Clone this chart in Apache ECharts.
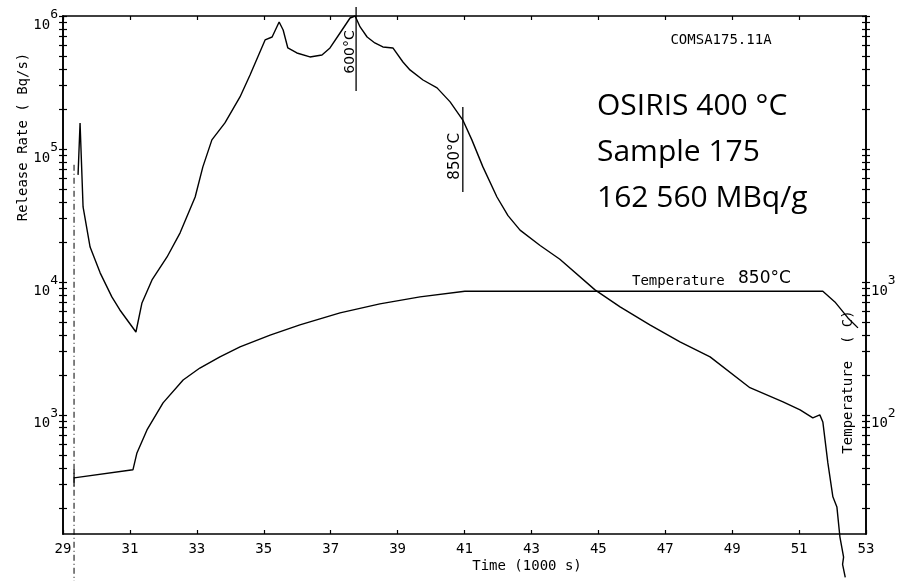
<!DOCTYPE html>
<html><head><meta charset="utf-8">
<script src="https://cdn.jsdelivr.net/npm/echarts@6/dist/echarts.min.js"></script>
<style>html,body{margin:0;padding:0;background:#fff}#c{width:910px;height:581px}</style>
</head><body><div id="c"></div>
<script>
// ---- data ----
const releaseTime = [29.45, 29.51, 29.60, 29.81, 30.11, 30.46, 30.70, 31.18, 31.36, 31.66, 32.11, 32.50, 32.95, 33.18, 33.45, 33.84, 34.29, 34.59, 35.04, 35.25, 35.46, 35.58, 35.72, 35.99, 36.38, 36.74, 36.98, 37.28, 37.58, 37.73, 37.88, 38.09, 38.32, 38.56, 38.86, 39.16, 39.37, 39.76, 40.18, 40.57, 40.95, 41.22, 41.55, 41.97, 42.30, 42.66, 43.26, 43.85, 44.90, 45.65, 46.54, 47.44, 48.34, 49.53, 50.52, 51.03, 51.41, 51.62, 51.71, 51.86, 52.01, 52.13, 52.22, 52.28, 52.33, 52.30, 52.38];
const releaseRate = [63800, 156700, 36600, 18300, 11700, 7710, 6150, 4200, 6950, 10350, 15400, 23400, 43500, 73300, 117000, 157000, 246000, 360000, 661000, 695000, 902000, 785000, 575000, 527000, 492000, 509000, 575000, 745000, 966000, 1000000, 827000, 695000, 627000, 585000, 575000, 451000, 393000, 330000, 288000, 226000, 165000, 117000, 73300, 43500, 31500, 24500, 18800, 14800, 8710, 6490, 4750, 3540, 2730, 1600, 1250, 1090, 950, 1000, 885, 435, 242, 203, 121, 100, 85, 75, 60];
const tempTime = [29.33, 31.09, 31.21, 31.51, 31.99, 32.59, 33.09, 33.69, 34.29, 35.19, 36.08, 37.28, 38.47, 39.67, 41.01, 51.71, 52.07, 52.46, 52.76];
const temperature = [33.6, 38.6, 51.7, 77, 123, 183, 225, 273, 324, 398, 475, 585, 684, 771, 850, 850, 707, 536, 451];

// tick labels
const xTickLabels = [29, 31, 33, 35, 37, 39, 41, 43, 45, 47, 49, 51, 53];
const leftLabelValues = [1e3, 1e4, 1e5, 1e6];
const rightLabelValues = [1e2, 1e3];
const leftRange = [127, 1e6];
const rightRange = [12.7, 1e5];

// annotations (data coordinates)
const startLine = [[29.33, 76000], [29.33, 56]];
const startTick = [[29.33, 29], [29.33, 39]];
const marker600 = [[37.76, 1.17e6], [37.76, 2.73e5]];
const marker850 = [[40.95, 2.07e5], [40.95, 4.75e4]];

// ---- build ----
function logTicks(lo, hi) {
  const out = [];
  for (let k = 0; k <= 6; k++) for (let m = 1; m <= 9; m++) {
    const v = m * Math.pow(10, k);
    if (v >= lo * 0.999 && v <= hi * 1.001) out.push(v);
  }
  return out;
}
const leftTicks = logTicks(leftRange[0], leftRange[1]);
const rightTicks = logTicks(rightRange[0], rightRange[1]);
const zip = (a, b) => a.map((v, i) => [v, b[i]]);

const mono = 'DejaVu Sans Mono';
const black = '#000';
const rich = {
  b: {fontFamily: mono, fontSize: 14, color: black, lineHeight: 32, verticalAlign: 'bottom'},
  s: {fontFamily: mono, fontSize: 13, color: black, lineHeight: 32, verticalAlign: 'top', padding: [8, 0, 0, 0]}
};
const powFmt = v => '{b|10}{s|' + Math.round(Math.log10(v)) + '}';

function yAx(range, pos, ticks, labels, inside) {
  return {
    type: 'log', min: range[0], max: range[1], position: pos,
    axisLine: {show: true, lineStyle: {color: black, width: 1.6}},
    axisTick: {show: true, customValues: ticks, inside: inside, length: 4, lineStyle: {color: black, width: 1.2}},
    axisLabel: labels ? {show: true, customValues: labels, formatter: powFmt, rich: rich, margin: 5} : {show: false},
    splitLine: {show: false}, minorTick: {show: false}
  };
}
function xAx(pos, labels) {
  return {
    type: 'value', min: 29, max: 53, position: pos,
    axisLine: {show: true, onZero: false, lineStyle: {color: black, width: 1.6}},
    axisTick: {show: true, customValues: xTickLabels, inside: true, length: 4, lineStyle: {color: black, width: 1.2}},
    axisLabel: labels ? {show: true, customValues: xTickLabels, color: black, fontFamily: mono, fontSize: 14, margin: 8} : {show: false},
    splitLine: {show: false}
  };
}
const lineSeries = (data, yi, extra) => Object.assign({
  type: 'line', xAxisIndex: 0, yAxisIndex: yi, data: data, showSymbol: false, symbol: 'none',
  clip: false, silent: true, smooth: false,
  lineStyle: {color: black, width: 1.4}
}, extra || {});

const chart = echarts.init(document.getElementById('c'), null, {renderer: 'canvas'});
chart.setOption({
  animation: false,
  backgroundColor: '#fff',
  grid: {left: 63, right: 44, top: 16, bottom: 47, containLabel: false},
  xAxis: [xAx('bottom', true), xAx('top', false)],
  yAxis: [
    yAx(leftRange, 'left', leftTicks, leftLabelValues, false),
    yAx(leftRange, 'left', leftTicks, null, true),
    yAx(rightRange, 'right', rightTicks, rightLabelValues, false),
    yAx(rightRange, 'right', rightTicks, null, true)
  ],
  series: [
    lineSeries(zip(releaseTime, releaseRate), 0),
    lineSeries(zip(tempTime, temperature), 2),
    lineSeries(startLine, 0, {lineStyle: {color: black, width: 1, type: [6, 3, 1, 3]}}),
    lineSeries(startTick, 2, {lineStyle: {color: black, width: 1.2}}),
    lineSeries(marker600, 0, {lineStyle: {color: black, width: 1.3}}),
    lineSeries(marker850, 0, {lineStyle: {color: black, width: 1.3}})
  ]
});

const px = p => chart.convertToPixel({xAxisIndex: 0, yAxisIndex: 0}, p);
const m6 = px([marker600[0][0], 5.36e5]);
const m8 = px([marker850[0][0], 8.8e4]);
const txt = (x, y, s, style, rot) => ({
  type: 'text', x: x, y: y, rotation: rot || 0, silent: true,
  style: Object.assign({text: s, fill: black, align: 'center', verticalAlign: 'middle'}, style)
});
const big = {fontFamily: 'Open Sans', fontSize: 30, align: 'left'};
chart.setOption({
  graphic: [
    txt(721, 40, 'COMSA175.11A', {fontFamily: mono, fontSize: 14}),
    txt(597, 106, 'OSIRIS 400 °C', big),
    txt(597, 152, 'Sample 175', big),
    txt(597, 198, '162 560 MBq/g', big),
    txt(632, 281, 'Temperature', {fontFamily: mono, fontSize: 14, align: 'left'}),
    txt(738, 279, '850°C', {fontFamily: 'DejaVu Sans', fontSize: 17, align: 'left'}),
    txt(m6[0] - 6, m6[1], '600°C', {fontFamily: 'DejaVu Sans', fontSize: 14}, Math.PI / 2),
    txt(m8[0] - 8, m8[1], '850°C', {fontFamily: 'DejaVu Sans', fontSize: 15}, Math.PI / 2),
    txt(23, 137, 'Release Rate ( Bq/s)', {fontFamily: mono, fontSize: 14}, Math.PI / 2),
    txt(848, 382, 'Temperature  ( C)', {fontFamily: mono, fontSize: 14}, Math.PI / 2),
    txt(527, 566, 'Time (1000 s)', {fontFamily: mono, fontSize: 14})
  ]
});
</script>
</body></html>
